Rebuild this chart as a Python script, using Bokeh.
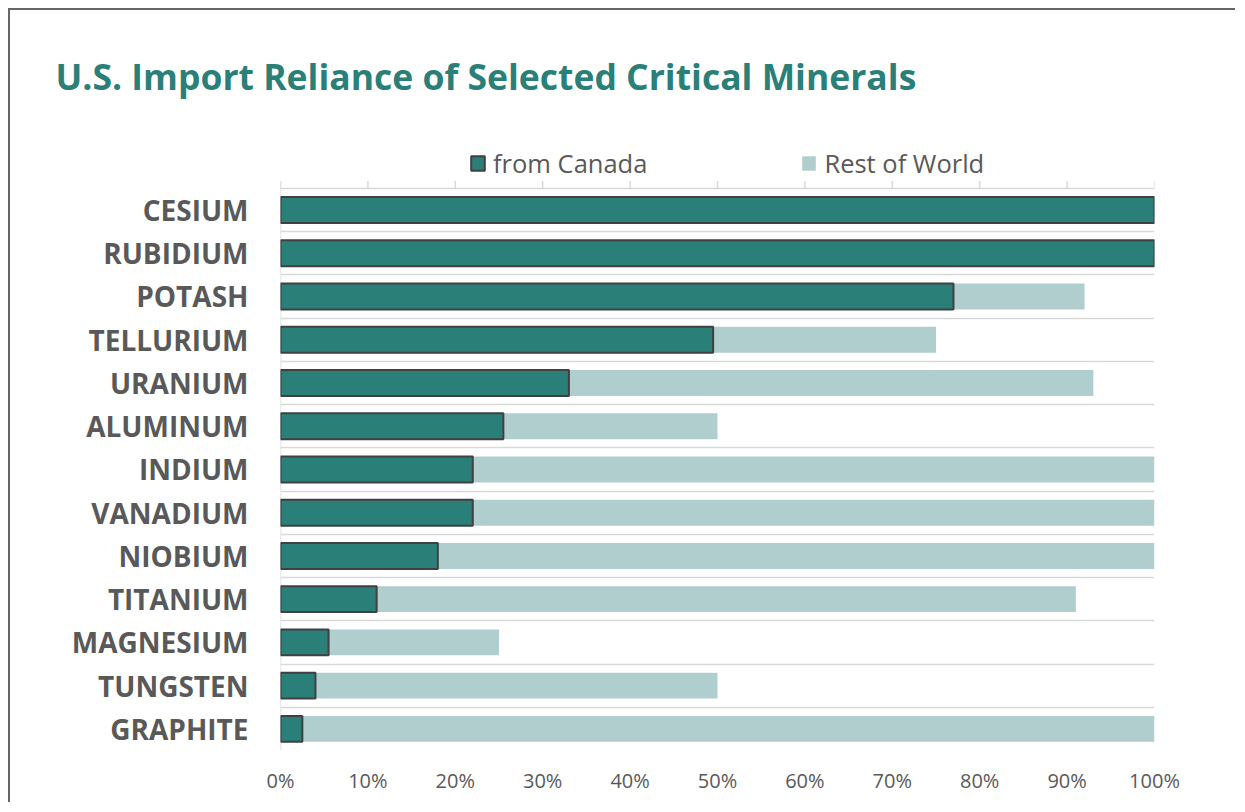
from bokeh.plotting import figure
from bokeh.models import (Range1d, FixedTicker, Legend, LegendItem, Title,
                          ColumnDataSource)
from bokeh.transform import stack
from bokeh.embed import file_html
from bokeh.resources import INLINE

# ---- data ----
minerals = ["CESIUM", "RUBIDIUM", "POTASH", "TELLURIUM", "URANIUM", "ALUMINUM",
            "INDIUM", "VANADIUM", "NIOBIUM", "TITANIUM", "MAGNESIUM", "TUNGSTEN",
            "GRAPHITE"]
from_canada = [100, 100, 77, 49.5, 33, 25.5, 22, 22, 18, 11, 5.5, 4, 2.5]
rest_of_world = [0, 0, 15, 25.5, 60, 24.5, 78, 78, 82, 80, 19.5, 46, 97.5]
series_names = ["from Canada", "Rest of World"]
x_ticks = [0, 10, 20, 30, 40, 50, 60, 70, 80, 90, 100]
x_tick_labels = ["0%", "10%", "20%", "30%", "40%", "50%", "60%", "70%", "80%", "90%", "100%"]
title_text = "U.S. Import Reliance of Selected Critical Minerals"

TEAL = "#2A7F78"
LIGHT = "#AFCECD"
GRAY = "#595959"
GRID = "#D9D9D9"
FONT = "Open Sans"

n = len(minerals)
ypos = [n - 1 - i for i in range(n)]          # first mineral at the top
top_edge = n - 0.5                             # upper edge of the category band
source = ColumnDataSource(dict(mineral=minerals, y=ypos, canada=from_canada,
                               rest=rest_of_world))

p = figure(y_range=Range1d(-0.5, 14.3), x_range=Range1d(0, 100),
           width=1227, height=794, output_backend="svg", toolbar_location=None,
           min_border_left=270, min_border_right=83, min_border_top=100,
           min_border_bottom=54)
p.styles = {"margin-left": "8px", "margin-top": "8px",
            "border-left": "2px solid #666666", "border-top": "2px solid #666666"}
p.outline_line_color = None
p.background_fill_color = "white"
p.border_fill_color = "white"

# grid between categories
p.xgrid.visible = False
p.ygrid.ticker = FixedTicker(ticks=[k - 0.5 for k in range(n + 1)])
p.ygrid.grid_line_color = GRID
p.ygrid.grid_line_width = 1.5

# left axis line and top tick marks of the category band
tick_len = 0.17
p.segment(x0=[0], y0=[-0.5], x1=[0], y1=[top_edge + tick_len],
          line_color=GRID, line_width=1.5)
p.segment(x0=x_ticks, y0=[top_edge] * len(x_ticks), x1=x_ticks,
          y1=[top_edge + tick_len] * len(x_ticks), line_color=GRID, line_width=1.5)

# bars
r_rest = p.hbar(y="y", left=stack("canada"), right=stack("canada", "rest"),
                height=0.6, fill_color=LIGHT, line_color=None, source=source)
r_can = p.hbar(y="y", left=0, right="canada", height=0.6, fill_color=TEAL,
               line_color="#404040", line_width=2, source=source)

# left axis: category labels
ya = p.yaxis[0]
ya.ticker = FixedTicker(ticks=ypos)
ya.major_label_overrides = {y: m for y, m in zip(ypos, minerals)}
ya.axis_line_color = None
ya.major_tick_line_color = None
ya.minor_tick_line_color = None
ya.major_label_text_font = FONT
ya.major_label_text_font_style = "bold"
ya.major_label_text_font_size = "28px"
ya.major_label_text_color = GRAY
ya.major_label_standoff = 26

# bottom axis (labels only)
xa = p.xaxis[0]
xa.ticker = FixedTicker(ticks=x_ticks)
xa.major_label_overrides = {t: l for t, l in zip(x_ticks, x_tick_labels)}
xa.axis_line_color = None
xa.major_tick_line_color = None
xa.minor_tick_line_color = None
xa.major_label_text_font = FONT
xa.major_label_text_font_size = "20px"
xa.major_label_text_color = GRAY
xa.major_label_standoff = 10

# legend (inside the frame, above the category band)
legend = Legend(items=[LegendItem(label=series_names[0], renderers=[r_can]),
                       LegendItem(label=series_names[1], renderers=[r_rest])],
                location=(189, 570), orientation="horizontal",
                glyph_width=17, glyph_height=18, label_standoff=7, spacing=153,
                padding=0, margin=0, border_line_color=None,
                background_fill_alpha=0, label_text_font=FONT,
                label_text_font_size="25.5px", label_text_color=GRAY)
p.add_layout(legend)

# title
p.title = Title(text=title_text, align="left", offset=-225, vertical_align="bottom",
                standoff=22, text_font=FONT, text_font_style="bold",
                text_font_size="35.5px", text_color=TEAL)

open("out.html", "w").write(file_html(p, INLINE))
